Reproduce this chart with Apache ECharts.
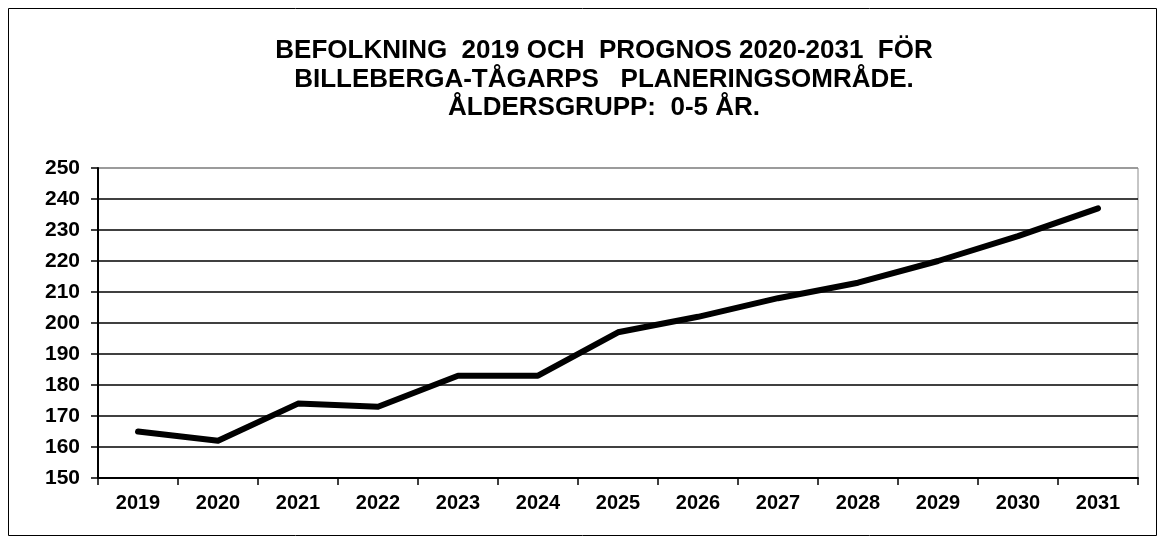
<!DOCTYPE html>
<html>
<head>
<meta charset="utf-8">
<script src="https://cdn.jsdelivr.net/npm/echarts@6/dist/echarts.min.js"></script>
<style>
html,body{margin:0;padding:0;background:#fff;}
#c{width:1165px;height:544px;}
</style>
</head>
<body>
<div id="c"></div>
<script>
const titleLines = ['BEFOLKNING  2019 OCH  PROGNOS 2020-2031  FÖR', 'BILLEBERGA-TÅGARPS   PLANERINGSOMRÅDE.', 'ÅLDERSGRUPP:  0-5 ÅR.'];
const years = ['2019','2020','2021','2022','2023','2024','2025','2026','2027','2028','2029','2030','2031'];
const population = [165, 162, 174, 173, 183, 183, 197, 202, 208, 213, 220, 228, 237];
const yMin = 150, yMax = 250, yStep = 10;

const chart = echarts.init(document.getElementById('c'));
const gridColors = [];
for (let v = yMin; v <= yMax; v += yStep) gridColors.push(v === yMax ? '#8c8c8c' : '#000');

chart.setOption({
  animation: false,
  backgroundColor: '#fff',
  title: {
    text: titleLines.join('\n'),
    left: 599, top: 32, textAlign: 'center',
    textStyle: {fontFamily: 'Liberation Sans', fontWeight: 'bold', fontSize: 26, lineHeight: 28.5, color: '#000'}
  },
  graphic: [{
    type: 'rect', shape: {x: 8.5, y: 8.5, width: 1148, height: 527},
    style: {fill: 'none', stroke: '#000', lineWidth: 1}, z: -1
  }],
  grid: {left: 98, right: 27, top: 168, bottom: 66, show: true, borderColor: '#8c8c8c', borderWidth: 1, backgroundColor: 'transparent'},
  xAxis: {
    type: 'category', data: years, boundaryGap: true,
    axisLine: {lineStyle: {color: '#000', width: 2}},
    axisTick: {show: true, length: 7, alignWithLabel: false, lineStyle: {color: '#000', width: 1.5}},
    axisLabel: {margin: 15, fontFamily: 'Liberation Sans', fontWeight: 'bold', fontSize: 20, color: '#000'}
  },
  yAxis: {
    type: 'value', min: yMin, max: yMax, interval: yStep,
    axisLine: {show: true, lineStyle: {color: '#000', width: 2}},
    axisTick: {show: true, length: 7, lineStyle: {color: '#000', width: 1.5}},
    axisLabel: {margin: 18, fontFamily: 'Liberation Sans', fontWeight: 'bold', fontSize: 21, color: '#000'},
    splitLine: {show: true, lineStyle: {color: gridColors, width: 1.5}}
  },
  series: [{
    type: 'line', data: population, showSymbol: false, symbol: 'none',
    lineStyle: {color: '#000', width: 6, join: 'round', cap: 'round'}, z: 5
  }]
});
</script>
</body>
</html>
